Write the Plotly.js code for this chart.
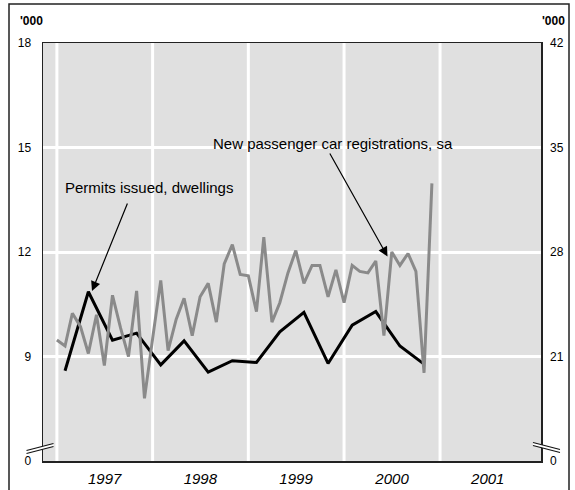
<!DOCTYPE html>
<html>
<head>
<meta charset="utf-8">
<script src="https://cdn.plot.ly/plotly-3.0.1.min.js"></script>
<style>
html,body{margin:0;padding:0;background:#fff;}
#chart{width:575px;height:490px;}
</style>
</head>
<body>
<div id="chart"></div>
<script>
// ---- data ----
const monthDates = [
 '1997-01-01','1997-02-01','1997-03-01','1997-04-01','1997-05-01','1997-06-01','1997-07-01','1997-08-01','1997-09-01','1997-10-01','1997-11-01','1997-12-01',
 '1998-01-01','1998-02-01','1998-03-01','1998-04-01','1998-05-01','1998-06-01','1998-07-01','1998-08-01','1998-09-01','1998-10-01','1998-11-01','1998-12-01',
 '1999-01-01','1999-02-01','1999-03-01','1999-04-01','1999-05-01','1999-06-01','1999-07-01','1999-08-01','1999-09-01','1999-10-01','1999-11-01','1999-12-01',
 '2000-01-01','2000-02-01','2000-03-01','2000-04-01','2000-05-01','2000-06-01','2000-07-01','2000-08-01','2000-09-01','2000-10-01','2000-11-01','2000-12-01'
];
// New passenger car registrations, sa ('000, right axis)
const carRegistrations = [
 22.1, 21.7, 23.9, 23.0, 21.2, 23.8, 20.4, 25.1, 22.9, 21.0, 25.4, 18.2,
 22.2, 26.1, 21.4, 23.5, 24.9, 22.4, 25.0, 25.9, 23.3, 27.2, 28.5, 26.5,
 26.4, 24.0, 29.0, 23.3, 24.6, 26.6, 28.1, 25.9, 27.1, 27.1, 25.0, 26.8,
 24.6, 27.1, 26.7, 26.6, 27.4, 22.4, 28.0, 27.1, 27.9, 26.7, 19.9, 32.6
];
const quarterDates = [
 '1997-02-01','1997-05-01','1997-08-01','1997-11-01',
 '1998-02-01','1998-05-01','1998-08-01','1998-11-01',
 '1999-02-01','1999-05-01','1999-08-01','1999-11-01',
 '2000-02-01','2000-05-01','2000-08-01','2000-11-01'
];
// Permits issued, dwellings ('000, left axis)
const permitsIssued = [
 8.59, 10.86, 9.47, 9.67,
 8.76, 9.45, 8.55, 8.88,
 8.83, 9.71, 10.27, 8.80,
 9.90, 10.29, 9.30, 8.78
];
const yearStarts = ['1997-01-01','1998-01-01','1999-01-01','2000-01-01','2001-01-01'];
const yearMids = ['1997-07-02','1998-07-02','1999-07-02','2000-07-02','2001-07-02'];
const yearLabels = ['1997','1998','1999','2000','2001'];
const leftTickVals = [6, 9, 12, 15, 18];
const leftTickText = ['0', '9', '12', '15', '18'];
const rightTickVals = [14, 21, 28, 35, 42];
const rightTickText = ['0', '21', '28', '35', '42'];

// ---- layout helpers ----
const FONT = 'Liberation Sans, Arial, Helvetica, sans-serif';
const L = 43, R = 34, T = 43, B = 29, W = 575, H = 490;
const PW = W - L - R, PH = H - T - B;
const px = x => (x - L) / PW;
const py = y => (H - B - y) / PH;

const traces = [
  {
    x: monthDates, y: carRegistrations, type: 'scatter', mode: 'lines',
    yaxis: 'y2', line: {color: '#8a8a8a', width: 3}, hoverinfo: 'skip'
  },
  {
    x: quarterDates, y: permitsIssued, type: 'scatter', mode: 'lines',
    line: {color: '#000000', width: 3}, hoverinfo: 'skip'
  }
];

const shapes = [];
yearStarts.forEach(d => shapes.push({
  type: 'line', xref: 'x', yref: 'paper', x0: d, x1: d, y0: 0, y1: 1,
  line: {color: '#ffffff', width: 3}, layer: 'below'
}));
// outer frame
shapes.push({type: 'rect', xref: 'paper', yref: 'paper',
  x0: px(9), x1: px(569), y0: py(520), y1: py(4),
  line: {color: '#222', width: 1.5}, fillcolor: 'rgba(0,0,0,0)', layer: 'above'});
// axis break marks
function brk(xa, ya1, xb, yb1, gap) {
  shapes.push({type: 'path', xref: 'paper', yref: 'paper',
    path: `M${px(xa)},${py(ya1)} L${px(xb)},${py(yb1)} L${px(xb)},${py(yb1 + gap)} L${px(xa)},${py(ya1 + gap)} Z`,
    fillcolor: '#ffffff', line: {width: 0}, layer: 'above'});
  shapes.push({type: 'line', xref: 'paper', yref: 'paper', x0: px(xa), y0: py(ya1), x1: px(xb), y1: py(yb1),
    line: {color: '#111', width: 1.2}, layer: 'above'});
  shapes.push({type: 'line', xref: 'paper', yref: 'paper', x0: px(xa), y0: py(ya1 + gap), x1: px(xb), y1: py(yb1 + gap),
    line: {color: '#111', width: 1.2}, layer: 'above'});
}
brk(26.5, 450.5, 53.5, 443.5, 3);
brk(533, 442.5, 560, 449.5, 3);

const txt = (x, y, text, size) => ({xref: 'paper', yref: 'paper', x: px(x), y: py(y), text: text,
  showarrow: false, xanchor: 'center', yanchor: 'middle',
  font: {family: FONT, size: size, color: '#000'}});
const annotations = [
  txt(31, 21, "<b>'000</b>", 12),
  txt(553, 21, "<b>'000</b>", 12),
  txt(148.5, 187, 'Permits issued, dwellings', 15),
  txt(332.5, 143.5, 'New passenger car registrations, sa', 15),
  {xref: 'paper', yref: 'paper', x: px(92), y: py(291), text: '', showarrow: true,
   ax: 36, ay: -89, arrowhead: 2, arrowsize: 1.6, arrowwidth: 1.2, arrowcolor: '#000', standoff: 0},
  {xref: 'paper', yref: 'paper', x: px(387.5), y: py(256.5), text: '', showarrow: true,
   ax: -58.5, ay: -104.5, arrowhead: 2, arrowsize: 1.6, arrowwidth: 1.2, arrowcolor: '#000', standoff: 0}
];

const layout = {
  width: W, height: H,
  margin: {l: L, r: R, t: T, b: B, pad: 0},
  paper_bgcolor: '#ffffff', plot_bgcolor: '#e0e0e0',
  showlegend: false,
  font: {family: FONT, size: 12, color: '#000'},
  xaxis: {
    type: 'date', range: ['1996-11-09', '2002-01-21'],
    tickmode: 'array', tickvals: yearMids, ticktext: yearLabels,
    tickfont: {family: FONT, size: 15, style: 'italic', color: '#000'},
    showgrid: false, zeroline: false, ticks: '', ticklabelstandoff: 3,
    showline: true, mirror: true, linecolor: '#222', linewidth: 1.5, fixedrange: true
  },
  yaxis: {
    range: [6, 18], tickmode: 'array', tickvals: leftTickVals, ticktext: leftTickText,
    tickfont: {family: FONT, size: 12, color: '#000'},
    showgrid: true, gridcolor: '#ffffff', gridwidth: 3, zeroline: false, ticks: '',
    ticklabelstandoff: 8,
    showline: true, mirror: true, linecolor: '#222', linewidth: 1.5, fixedrange: true
  },
  yaxis2: {
    overlaying: 'y', side: 'right', range: [14, 42],
    tickmode: 'array', tickvals: rightTickVals, ticktext: rightTickText,
    tickfont: {family: FONT, size: 12, color: '#000'},
    showgrid: false, zeroline: false, ticks: '', ticklabelstandoff: 8,
    showline: false, fixedrange: true
  },
  shapes: shapes,
  annotations: annotations
};

Plotly.newPlot('chart', traces, layout, {staticPlot: true, displayModeBar: false});
</script>
</body>
</html>
